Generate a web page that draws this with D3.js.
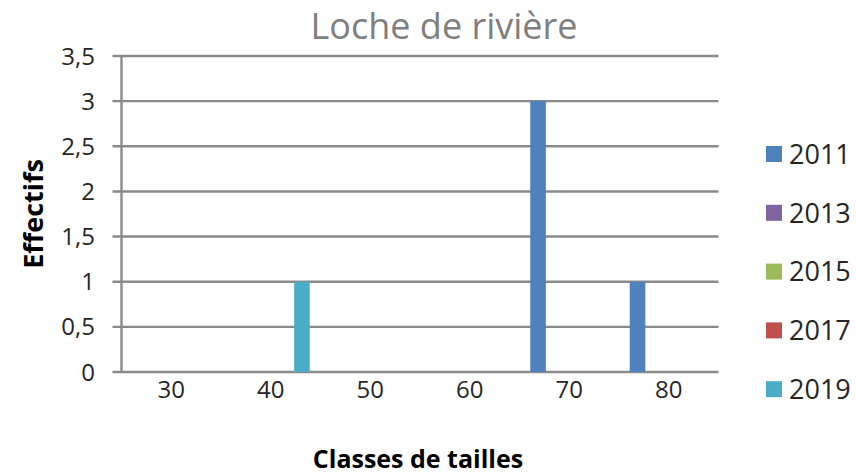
<!DOCTYPE html>
<html><head><meta charset="utf-8">
<script src="https://cdn.jsdelivr.net/npm/d3@7"></script>
<style>body{margin:0;background:#fff}svg{display:block}</style>
</head><body>
<svg id="c" width="856" height="476"></svg>
<script>
const categories = ["30","40","50","60","70","80"];
const seriesNames = ["2011","2013","2015","2017","2019"];
const values2011 = [0,0,0,0,3,1];
const values2013 = [0,0,0,0,0,0];
const values2015 = [0,0,0,0,0,0];
const values2017 = [0,0,0,0,0,0];
const values2019 = [0,1,0,0,0,0];
const yTicks = [0,0.5,1,1.5,2,2.5,3,3.5];
const colors = ["#4f81bd","#8064a2","#9bbb59","#c0504d","#4bacc6"];

const allValues = [values2011,values2013,values2015,values2017,values2019];
const svg = d3.select("#c");
const font = "'Open Sans', sans-serif";
const m = {left:121.5, right:718.5, top:56, bottom:372};

const x0 = d3.scaleBand().domain(categories).range([m.left,m.right]).paddingInner(0.216).paddingOuter(0.108);
const x1 = d3.scaleBand().domain(seriesNames).range([0,x0.bandwidth()]);
const y = d3.scaleLinear().domain([0,3.5]).range([m.bottom,m.top]);
const fmt = v => String(v).replace(".",",");

// gridlines
svg.append("g").selectAll("line").data(yTicks).join("line")
  .attr("x1",m.left-9).attr("x2",m.right)
  .attr("y1",d=>y(d)).attr("y2",d=>y(d))
  .attr("stroke","#8a8a8a").attr("stroke-width",2.4);
// y axis line
svg.append("line").attr("x1",m.left).attr("x2",m.left).attr("y1",m.top).attr("y2",m.bottom)
  .attr("stroke","#8a8a8a").attr("stroke-width",2.4);

// y labels
svg.append("g").selectAll("text").data(yTicks).join("text")
  .attr("x",95).attr("y",d=>y(d)).attr("dy","0.36em").attr("text-anchor","end")
  .attr("font-family",font).attr("font-size",24).attr("fill","#262626").text(fmt);

// bars
const g = svg.append("g");
seriesNames.forEach((s,i)=>{
  g.append("g").selectAll("rect").data(categories.map((c,j)=>({c,v:allValues[i][j]}))).join("rect")
    .filter(d=>d.v>0)
    .attr("x",d=>x0(d.c)+x1(s)).attr("width",x1.bandwidth())
    .attr("y",d=>y(d.v)).attr("height",d=>y(0)-y(d.v))
    .attr("fill",colors[i]);
});

// x labels
svg.append("g").selectAll("text").data(categories).join("text")
  .attr("x",d=>x0(d)+x0.bandwidth()/2).attr("y",389).attr("dy","0.36em").attr("text-anchor","middle")
  .attr("font-family",font).attr("font-size",24).attr("fill","#262626").text(d=>d);

// title
svg.append("text").attr("x",444).attr("y",39).attr("text-anchor","middle")
  .attr("font-family",font).attr("font-size",36).attr("fill","#7f7f7f").text("Loche de rivière");

// axis titles
svg.append("text").attr("x",418).attr("y",468).attr("text-anchor","middle")
  .attr("font-family",font).attr("font-size",25).attr("font-weight","bold").attr("fill","#000").text("Classes de tailles");
svg.append("text").attr("transform","translate(43,214) rotate(-90)").attr("text-anchor","middle")
  .attr("font-family",font).attr("font-size",27).attr("font-weight","bold").attr("fill","#000").text("Effectifs");

// legend
const lg = svg.append("g");
seriesNames.forEach((s,i)=>{
  const cy = 154 + i*58.8;
  lg.append("rect").attr("x",766).attr("y",cy-8).attr("width",16).attr("height",16).attr("fill",colors[i]);
  lg.append("text").attr("x",789).attr("y",cy).attr("dy","0.36em")
    .attr("font-family",font).attr("font-size",27).attr("fill","#262626").text(s);
});
</script>
</body></html>
